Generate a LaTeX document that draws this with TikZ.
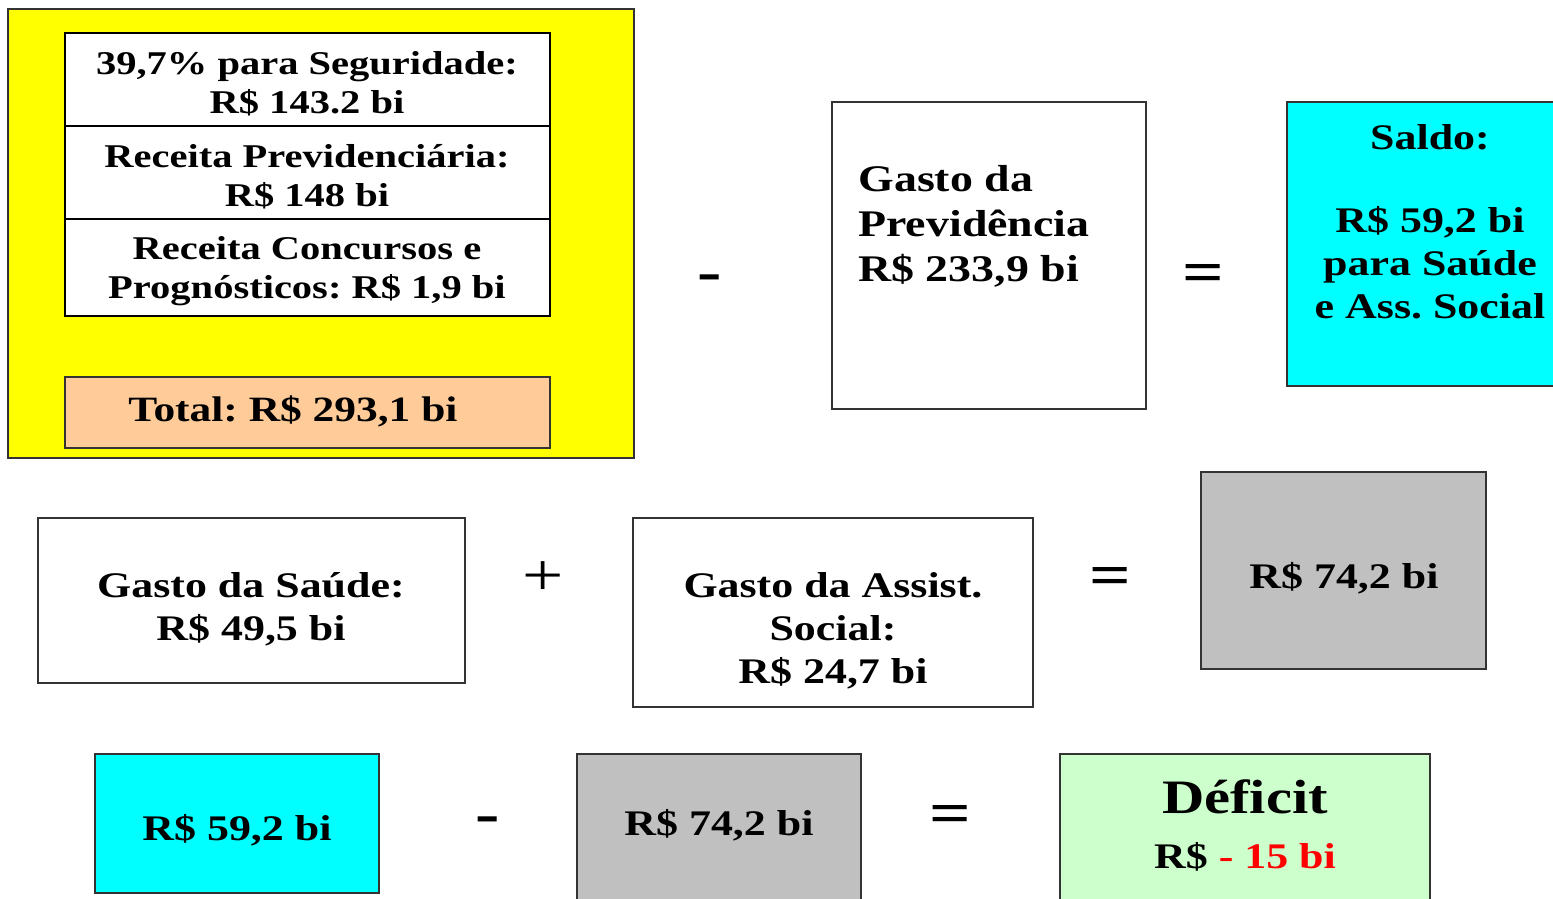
\documentclass[tikz,border=0pt]{standalone}
\usepackage{fontspec}
\setmainfont[FakeStretch=1.22]{Liberation Serif}
\definecolor{ylw}{HTML}{FFFF00}
\definecolor{org}{HTML}{FFCC99}
\definecolor{cyn}{HTML}{00FFFF}
\definecolor{gry}{HTML}{C0C0C0}
\definecolor{grn}{HTML}{CCFFCC}
\definecolor{rd}{HTML}{FF0000}
\begin{document}
\frenchspacing
\begin{tikzpicture}[x=0.5pt,y=-0.5pt,
  box/.style={draw=black!80, line width=1pt, inner sep=0pt, outer sep=0pt},
  inbox/.style={draw=black, line width=1.4pt, fill=white, inner sep=0pt, outer sep=0pt},
  lbl/.style={font=\bfseries\fontsize{18}{21.5}\selectfont, align=center, inner sep=0pt},
  smalllbl/.style={font=\bfseries\fontsize{16.6}{19.5}\selectfont, align=center, inner sep=0pt},
  oper/.style={font=\bfseries\fontsize{30}{36}\selectfont, inner sep=0pt, anchor=base}]
\useasboundingbox (0,0) rectangle (1553,899);
% top-left group
\node[box, fill=ylw, minimum width=313pt, minimum height=224.5pt] (yb) at (321,233.5) {};
\node[inbox, minimum width=242.5pt, minimum height=46.5pt] (b1) at (307.5,79.5) {};
\node[inbox, minimum width=242.5pt, minimum height=46.5pt] (b2) at (307.5,172.5) {};
\node[inbox, minimum width=242.5pt, minimum height=48.5pt] (b3) at (307.5,267.5) {};
\node[box, fill=org, minimum width=242.5pt, minimum height=35.5pt] (tot) at (307.5,412.5) {};
\node[smalllbl] (t1) at (307,84) {39,7\% para Seguridade:\\R\$ 143.2 bi};
\node[smalllbl] (t2) at (307,177) {Receita Previdenciária:\\R\$ 148 bi};
\node[smalllbl] (t3) at (307,271) {Receita Concursos e\\Prognósticos: R\$ 1,9 bi};
\node[lbl, font=\bfseries\fontsize{17.8}{20}\selectfont] (tt) at (293,411) {Total: R\$ 293,1 bi};
% top row
\node[oper] (m1) at (710,291) {-};
\node[box, fill=white, minimum width=157pt, minimum height=153.5pt] (prev) at (989,255.5) {};
\node[lbl, align=left, anchor=west, font=\bfseries\fontsize{18.8}{22.5}\selectfont] (prevt) at (858,226) {Gasto da\\Previdência\\R\$ 233,9 bi};
\node[oper] (e1) at (1203,292) {=};
\node[box, fill=cyn, minimum width=143pt, minimum height=142pt] (saldo) at (1430,244) {};
\node[lbl] (saldot) at (1430,137) {Saldo:};
\node[lbl] (saldov) at (1430,263) {R\$ 59,2 bi\\para Saúde\\e Ass. Social};
% middle row
\node[box, fill=white, minimum width=213.5pt, minimum height=82.5pt] (saude) at (251.5,600.5) {};
\node[lbl] (saudet) at (251,609) {Gasto da Saúde:\\R\$ 49,5 bi};
\node[oper, font=\fontsize{30}{36}\selectfont] (p1) at (543,595) {+};
\node[box, fill=white, minimum width=200pt, minimum height=94.5pt] (assist) at (833,612.5) {};
\node[lbl] (assistt) at (833,631) {Gasto da Assist.\\Social:\\R\$ 24,7 bi};
\node[oper] (e2) at (1110,595) {=};
\node[box, fill=gry, minimum width=142.5pt, minimum height=98.5pt] (g1) at (1343.5,570.5) {};
\node[lbl] (g1t) at (1344,578) {R\$ 74,2 bi};
% bottom row
\node[box, fill=cyn, minimum width=142pt, minimum height=69.5pt] (c2) at (237,823.5) {};
\node[lbl] (c2t) at (237,830) {R\$ 59,2 bi};
\node[oper] (m2) at (488,833) {-};
\node[box, fill=gry, minimum width=142pt, minimum height=98.5pt] (g2) at (719,852.5) {};
\node[lbl] (g2t) at (719,825) {R\$ 74,2 bi};
\node[oper] (e3) at (950,833) {=};
\node[box, fill=grn, minimum width=185pt, minimum height=98.5pt] (def) at (1245,852.5) {};
\node[lbl, font=\bfseries\fontsize{24}{28}\selectfont] (deft) at (1245,797) {Déficit};
\node[lbl] (defv) at (1245,857) {R\$ \textcolor{rd}{- 15 bi}};
\end{tikzpicture}
\end{document}
